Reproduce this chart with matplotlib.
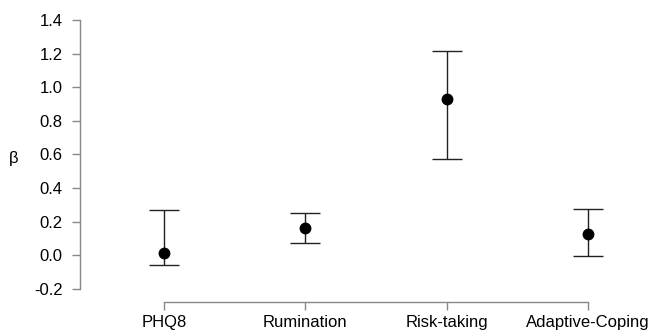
import numpy as np
import matplotlib.pyplot as plt

plt.rcParams['font.family'] = ['Liberation Sans', 'DejaVu Sans']

labels = ['PHQ8', 'Rumination', 'Risk-taking', 'Adaptive-Coping']
beta = [0.016, 0.165, 0.930, 0.125]
ci_low = [-0.056, 0.073, 0.573, -0.004]
ci_high = [0.268, 0.254, 1.218, 0.276]

x = np.arange(len(labels))
beta = np.array(beta)
yerr = [beta - np.array(ci_low), np.array(ci_high) - beta]

fig = plt.figure(figsize=(6.51, 3.31), dpi=100)
ax = fig.add_axes([80/651, 29/331, 560/651, 288/331])

ax.errorbar(x, beta, yerr=yerr, fmt='o', color='black', ecolor='#222222',
            elinewidth=1.0, capsize=10.5, capthick=1.0, markersize=7.5)

ax.set_xlim(-0.594, 3.368)
ax.set_ylim(-0.2774, 1.4357)
ax.set_yticks(np.arange(-0.2, 1.41, 0.2))
ax.set_yticklabels([f'{v:.1f}' for v in np.arange(-0.2, 1.41, 0.2)])
ax.set_xticks(x)
ax.set_xticklabels(labels)

for s in ['top', 'right']:
    ax.spines[s].set_visible(False)
ax.spines['left'].set_bounds(-0.2, 1.4)
ax.spines['bottom'].set_bounds(0, 3)
for s in ['left', 'bottom']:
    ax.spines[s].set_color('#888888')
    ax.spines[s].set_linewidth(1.0)
ax.tick_params(colors='#888888', labelcolor='black', labelsize=12, length=6, width=1.0)
ax.tick_params(axis='y', pad=6.5)

ax.set_ylabel('β', rotation=0, fontsize=12, labelpad=15, va='center')

fig.savefig('out.png', dpi=100)
